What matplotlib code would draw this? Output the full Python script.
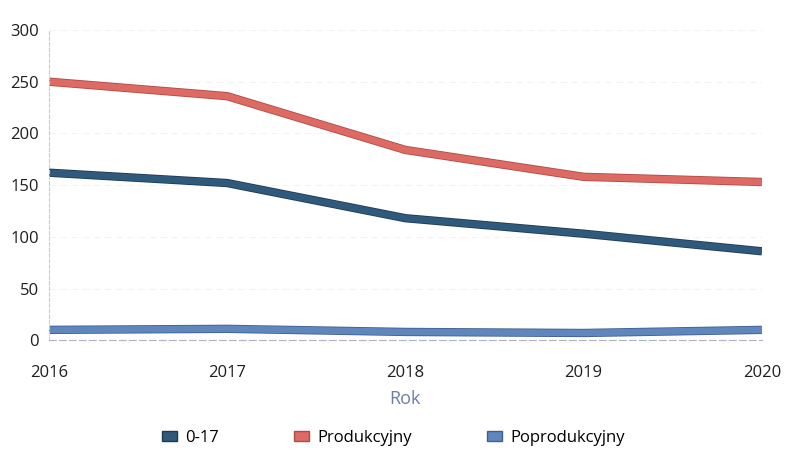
import matplotlib
matplotlib.use("Agg")
import matplotlib.pyplot as plt
import matplotlib.patheffects as pe
from matplotlib.patches import Patch

years = [2016, 2017, 2018, 2019, 2020]
age_0_17 = [162, 152, 118, 103, 86]
produkcyjny = [250, 236, 184, 158, 153]
poprodukcyjny = [10, 11, 8, 7, 10]

series = [
    ("0-17", age_0_17, "#2f5a7c", "#1e3a52"),
    ("Produkcyjny", produkcyjny, "#dd6a63", "#b04a45"),
    ("Poprodukcyjny", poprodukcyjny, "#5f86bd", "#3f5f8f"),
]

plt.rcParams["font.family"] = ["Open Sans", "DejaVu Sans"]

fig = plt.figure(figsize=(7.87, 4.61), dpi=100)
ax = fig.add_axes([0.062, 0.262, 0.906, 0.673])

for name, vals, col, edge in series:
    ax.plot(years, vals, color=col, linewidth=4.8, solid_capstyle="butt",
            path_effects=[pe.Stroke(linewidth=6.0, foreground=edge), pe.Normal()])

ax.set_xlim(2016, 2020)
ax.set_ylim(0, 300)
ax.set_yticks(range(0, 301, 50))
ax.set_xticks(years)
ax.tick_params(axis="both", length=0, labelsize=12, colors="#1e1e1e")
ax.tick_params(axis="x", pad=18)
ax.tick_params(axis="y", pad=7)
ax.grid(axis="y", color="#f3f3f3", linewidth=0.8, linestyle=(0, (6, 4)))
ax.set_axisbelow(True)
for side in ["top", "right"]:
    ax.spines[side].set_visible(False)
ax.spines["left"].set_color("#c8cbd8")
ax.spines["left"].set_linestyle((0, (3, 2)))
ax.spines["left"].set_linewidth(0.8)
ax.spines["bottom"].set_color("#aeb3c4")
ax.spines["bottom"].set_linestyle((0, (6, 3)))
ax.spines["bottom"].set_linewidth(0.8)

ax.set_xlabel("Rok", color="#6b7cae", fontsize=13, labelpad=6)

handles = [Patch(facecolor=col, edgecolor=edge, label=name) for name, _, col, edge in series]
fig.legend(handles=handles, loc="lower center", bbox_to_anchor=(0.50, 0.0), ncol=3,
           frameon=False, fontsize=12, handlelength=0.9, handleheight=0.55,
           handletextpad=0.5, columnspacing=4.5)

fig.savefig("out.png", dpi=100)
